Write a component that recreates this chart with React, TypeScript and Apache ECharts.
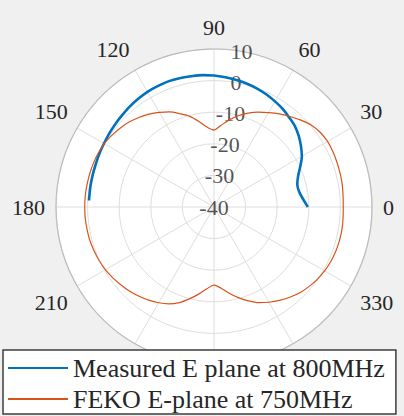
import React, { useEffect, useRef } from 'react';
import * as echarts from 'echarts';

const angleMin = 0;
const angleMax = 360;
const angleStep = 30;
const hiddenAngleLabels = [240, 270, 300, 360];
const radiusTicks = [-40, -30, -20, -10, 0, 10];
const radiusLabelAngle = 80;

const measuredName = 'Measured E plane at 800MHz';
const fekoName = 'FEKO E-plane at 750MHz';

const measuredAngles = [
  0, 5, 10, 15, 20, 25, 30, 35, 40, 45, 50, 55, 60, 65, 70, 75, 80, 85, 90,
  95, 100, 105, 110, 115, 120, 125, 130, 135, 140, 145, 150, 155, 160, 165, 170, 175, 177,
];
const measuredValues = [
  -10.3, -11.7, -12.6, -12.7, -11.7, -9.9, -7.9, -6.4, -5.0, -3.8, -3.0, -2.1, -1.4, -0.7, -0.1, 0.4, 0.8, 1.2, 1.6,
  1.9, 2.0, 2.2, 2.3, 2.2, 2.1, 1.8, 1.5, 1.1, 0.8, 0.5, 0.2, 0.0, -0.2, -0.3, -0.35, -0.4, -0.4,
];

const fekoAngles = [
  0, 5, 10, 15, 20, 25, 30, 35, 40, 45, 50, 55, 60, 65, 70, 75, 80, 85, 90,
  95, 100, 105, 110, 115, 120, 125, 130, 135, 140, 145, 150, 155, 160, 165, 170, 175, 180,
  185, 190, 195, 200, 205, 210, 215, 220, 225, 230, 235, 240, 245, 250, 255, 260, 265, 270,
  275, 280, 285, 290, 295, 300, 305, 310, 315, 320, 325, 330, 335, 340, 345, 350, 355, 360,
];
const fekoValues = [
  0.9, 1.0, 1.2, 1.3, 1.4, 1.5, 1.5, 1.1, 0.3, -1.1, -2.6, -4.0, -5.5, -6.9, -8.4, -10.1, -12.0, -14.0, -15.6,
  -14.6, -12.5, -10.3, -8.6, -6.8, -5.4, -4.1, -3.0, -2.0, -1.2, -0.5, 0.1, 0.4, 0.6, 0.7, 0.8, 0.9, 0.9,
  0.9, 0.8, 0.7, 0.4, 0.1, -0.3, -0.9, -1.6, -2.3, -3.1, -4.0, -5.0, -6.2, -7.8, -9.9, -12.0, -14.0, -15.3,
  -14.2, -12.3, -10.3, -8.4, -6.6, -5.2, -3.9, -2.7, -1.6, -0.8, -0.1, 0.4, 0.8, 1.0, 1.1, 1.1, 1.0, 0.9,
];

export default function App() {
  const ref = useRef<HTMLDivElement>(null);
  useEffect(() => {
    const chart = echarts.init(ref.current!, null, { renderer: 'svg' });
    const font = 'Liberation Serif, serif';
    const textColor = '#262626';
    const gridColor = '#dedede';
    const cx = 214;
    const cy = 207;
    const R = 158;
    chart.setOption({
      animation: false,
      backgroundColor: '#f0f0f0',
      graphic: [
        {
          type: 'circle',
          shape: { cx, cy, r: R },
          style: { fill: '#ffffff' },
          z: -10,
          silent: true,
        },
      ],
      polar: { center: [cx, cy], radius: R },
      angleAxis: {
        type: 'value',
        min: angleMin,
        max: angleMax,
        interval: angleStep,
        startAngle: 0,
        clockwise: false,
        axisLine: { show: true, lineStyle: { color: '#bcbcbc', width: 1.2 } },
        axisTick: { show: false },
        axisLabel: {
          margin: 11,
          color: textColor,
          fontFamily: font,
          fontSize: 22,
          formatter: (v: number) => (hiddenAngleLabels.includes(v) ? '' : String(v)),
        },
        splitLine: { show: true, lineStyle: { color: gridColor, width: 1 } },
        splitArea: { show: false },
      },
      radiusAxis: {
        type: 'value',
        min: radiusTicks[0],
        max: radiusTicks[radiusTicks.length - 1],
        interval: 10,
        axisLine: { show: false },
        axisTick: { show: false },
        axisLabel: { show: false },
        splitLine: { show: true, lineStyle: { color: gridColor, width: 1 } },
      },
      legend: {
        data: [measuredName, fekoName],
        orient: 'vertical',
        left: 3,
        top: 350,
        backgroundColor: '#ffffff',
        borderColor: '#3c3c3c',
        borderWidth: 1.5,
        borderRadius: 0,
        padding: [5, 11, 2, 4],
        itemGap: 5,
        itemWidth: 60,
        itemHeight: 14,
        itemStyle: { opacity: 0 },
        textStyle: { fontFamily: font, fontSize: 26, color: textColor, lineHeight: 26 },
      },
      series: [
        {
          type: 'scatter',
          coordinateSystem: 'polar',
          data: radiusTicks.map((r) => [r, radiusLabelAngle]),
          symbolSize: 1,
          itemStyle: { color: 'rgba(0,0,0,0)' },
          silent: true,
          z: 1,
          label: {
            show: true,
            position: 'inside',
            formatter: (p: any) => String(p.value[0]),
            color: textColor,
            fontFamily: font,
            fontSize: 22,
          },
        },
        {
          type: 'line',
          name: measuredName,
          coordinateSystem: 'polar',
          data: measuredAngles.map((a, i) => [measuredValues[i], a]),
          symbol: 'none',
          smooth: 0.3,
          z: 3,
          lineStyle: { color: '#0072BD', width: 2.6 },
          itemStyle: { color: '#0072BD' },
        },
        {
          type: 'line',
          name: fekoName,
          coordinateSystem: 'polar',
          data: fekoAngles.map((a, i) => [fekoValues[i], a]),
          symbol: 'none',
          smooth: 0.3,
          z: 3,
          lineStyle: { color: '#D95319', width: 1.2 },
          itemStyle: { color: '#D95319' },
        },
      ],
    });
    return () => chart.dispose();
  }, []);
  return <div ref={ref} style={{ position: 'absolute', left: 0, top: 0, width: 404, height: 416 }} />;
}
